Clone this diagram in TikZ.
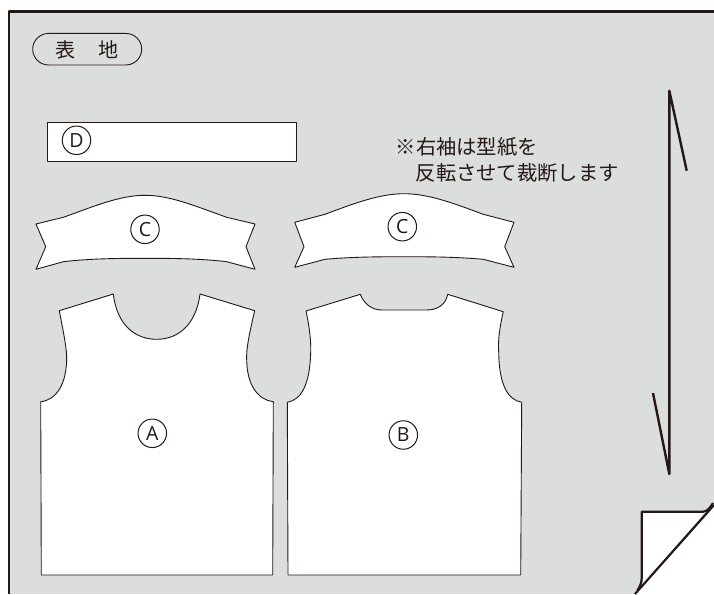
\documentclass[tikz,border=0pt]{standalone}
\usepackage{fontspec}
\setmainfont{Open Sans}
\newfontfamily\cjk{Noto Sans CJK JP}
\usepackage{tikz}
\usetikzlibrary{shapes.geometric,shapes.misc,positioning}
\definecolor{ink}{HTML}{231815}
\definecolor{cloth}{HTML}{DCDDDD}

\begin{document}
\begin{tikzpicture}[x=1pt, y=-1pt, line join=round]
   \useasboundingbox (0,0) rectangle (714,594);
   \tikzset{piece/.style={draw=ink, fill=white, line width=0.9pt}}
   \fill[cloth] (9,11) rectangle (714,594);
   \draw[ink, line width=2.8pt] (9,594) -- (9,11.3) -- (714,11.3);
   \draw[piece] (47.3,122.7) rectangle (296.7,161.3);
   \draw[piece] (36,224) -- (63.3,217.3) .. controls (95,206) and (120,195.3) .. (145,195.3)
        .. controls (170,195.3) and (195,206) .. (226.7,217.3) -- (255,224) -- (246,246.7) -- (255,269.3)
        -- (226.7,261.7) .. controls (200,258.5) and (170,258.3) .. (145,258.3)
        .. controls (120,258.3) and (90,258.5) .. (63.3,261.7) -- (36,269.3) -- (45.7,246.7) -- cycle;
   \draw[piece] (294.7,222.3) -- (325,214.3) .. controls (355,203) and (380,193.7) .. (404,193.7)
        .. controls (428,193.7) and (453,203) .. (483.3,214.3) -- (514,222.3) -- (504.7,246.7) -- (514,267.3)
        -- (483.3,259.3) .. controls (457,256.9) and (428,256.7) .. (404,256.7)
        .. controls (380,256.7) and (351,256.9) .. (325,259.3) -- (294.7,267.3) -- (304,246.7) -- cycle;
   \draw[piece] (59.3,310.7) -- (113.3,294) .. controls (117,325) and (135,339.3) .. (156.7,339.3)
        .. controls (178,339.3) and (196,325) .. (200,294) -- (254.7,310.7)
        .. controls (249,335) and (246,350) .. (246.7,360) .. controls (247,385) and (258,400) .. (273.3,401.7)
        -- (272.7,575) -- (41.3,575) -- (40.7,401.7)
        .. controls (56,400) and (66,385) .. (66.7,360) .. controls (67,350) and (64,335) .. (59.3,310.7) -- cycle;
   \draw[piece] (306,311) -- (360.3,294.3) .. controls (364,304) and (372,310) .. (381.7,310) -- (426.7,310)
        .. controls (438,310) and (446,304) .. (447.7,294.3) -- (503.3,311.7)
        .. controls (499,330) and (498,342) .. (498.7,351.7) .. controls (499,385) and (508,400) .. (521.7,402.3)
        -- (520.7,575) -- (288,575) -- (287.3,402.3)
        .. controls (301,400) and (310,385) .. (310.7,351.7) .. controls (311,342) and (310,330) .. (306,311) -- cycle;
   \node[draw=ink, fill=cloth, rounded rectangle, line width=0.9pt, minimum width=109pt, minimum height=31.5pt, inner sep=0pt] (title) at (87.2,49.2) {};
   \node[text=ink, font=\cjk\fontsize{20}{20}\selectfont] (titlea) at (65.5,50) {表};
   \node[text=ink, font=\cjk\fontsize{20}{20}\selectfont] (titleb) at (108.5,50) {地};
   \begin{scope}[every node/.style={circle, draw=ink, fill=white, text=ink, line width=1pt, minimum size=28.5pt, inner sep=0pt, font=\fontsize{19.5}{19.5}\selectfont}]
    \node (pd) at (76.5,140.3) {D};
    \node (pc) at (145,229.3) {C};
    \node (pcc) at (402.3,226.7) {C};
    \node (pa) at (152.3,433.3) {A};
    \node (pb) at (403.3,435) {B};
   \end{scope}
   \node[text=ink, anchor=west, inner sep=0pt, font=\cjk\fontsize{20.3}{20.3}\selectfont] (note1) at (395.5,147) {※右袖は型紙を};
   \node[text=ink, anchor=west, inner sep=0pt, font=\cjk\fontsize{20.3}{20.3}\selectfont] (note2) at (415.5,173) {反転させて裁断します};
   \coordinate (ftop) at (669.3,90.7);
   \coordinate (fbot) at (669.3,474);
   \coordinate (ftopb) at (686.7,170.7);
   \coordinate (fbotb) at (653,393);
   \draw[ink, line width=2.4pt] (ftopb) -- (ftop) -- (fbot) -- (fbotb);
   \draw[ink, line width=2.2pt, fill=white] (713,503) .. controls (710,508) and (707,511.7) .. (703,511.7) -- (641.7,511.7) -- (641.7,578) .. controls (641.7,583) and (640,586) .. (637.5,590.5);
   \fill[white] (714,505) -- (714,594) -- (635,594) -- cycle;
   \draw[ink, line width=2.2pt] (714,505) -- (635,594);
\end{tikzpicture}
\end{document}
